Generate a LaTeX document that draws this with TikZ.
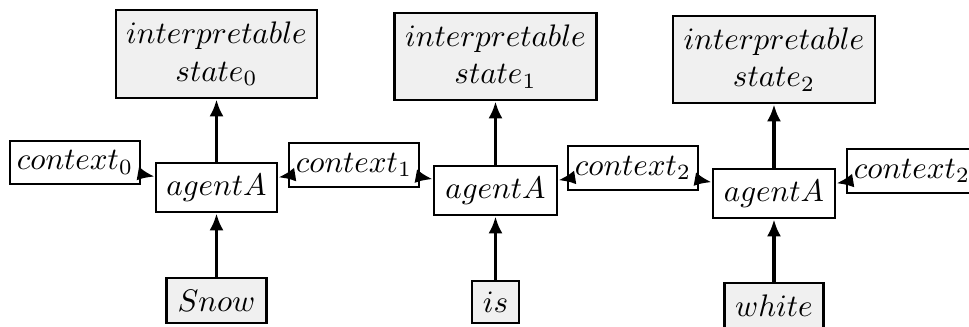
\documentclass[tikz,border=0pt]{standalone}
\usetikzlibrary{arrows.meta}
\definecolor{boxgray}{RGB}{240,240,240}
\begin{document}
\begin{tikzpicture}[x=0.321pt,y=-0.321pt,
  sz/.style 2 args={minimum width=#1*0.321pt, minimum height=#2*0.321pt},
  box/.style={draw, line width=0.8pt, inner sep=0pt, align=center, fill=white},
  grey/.style={box, fill=boxgray},
  arr/.style={line width=1.1pt, -{Latex[length=5.5pt,width=4.5pt]}}]
\clip (0,0) rectangle (969,327);
% interpretable states
\node[grey, sz={201}{88}] (s0) at (216.5,54)   {$interpretable$\\$state_0$};
\node[grey, sz={202}{87}] (s1) at (495.5,56.5) {$interpretable$\\$state_1$};
\node[grey, sz={202}{87}] (s2) at (774,59.5)   {$interpretable$\\$state_2$};
% contexts
\node[box, sz={130}{43}] (c0) at (75,162.5) {$context_0$};
\node[box, sz={130}{44}] (c1) at (354,165)  {$context_1$};
\node[box, sz={130}{44}] (c2) at (633,168)  {$context_2$};
\node[box, sz={130}{44}] (c3) at (912,171)  {$context_2$};
% agents
\node[box, sz={121}{49}] (a0) at (216.5,187.5) {$agentA$};
\node[box, sz={123}{49}] (a1) at (495.5,190.5) {$agentA$};
\node[box, sz={122}{49}] (a2) at (774,193.5)   {$agentA$};
% inputs
\node[grey, sz={100}{45}] (w0) at (216.5,300.5) {$Snow$};
\node[grey, sz={47}{42}]  (w1) at (495.5,302)   {$is$};
\node[grey, sz={99}{45}]  (w2) at (774,305.5)   {$white$};
% arrows
\draw[arr] (a0) -- (s0);
\draw[arr] (a1) -- (s1);
\draw[arr] (a2) -- (s2);
\draw[arr] (w0) -- (a0);
\draw[arr] (w1) -- (a1);
\draw[arr] (w2) -- (a2);
\draw[arr] (c0) -- (a0);
\draw[arr] (c1) -- (a0);
\draw[arr] (c1) -- (a1);
\draw[arr] (c2) -- (a1);
\draw[arr] (c2) -- (a2);
\draw[arr] (c3) -- (a2);
\end{tikzpicture}
\end{document}
